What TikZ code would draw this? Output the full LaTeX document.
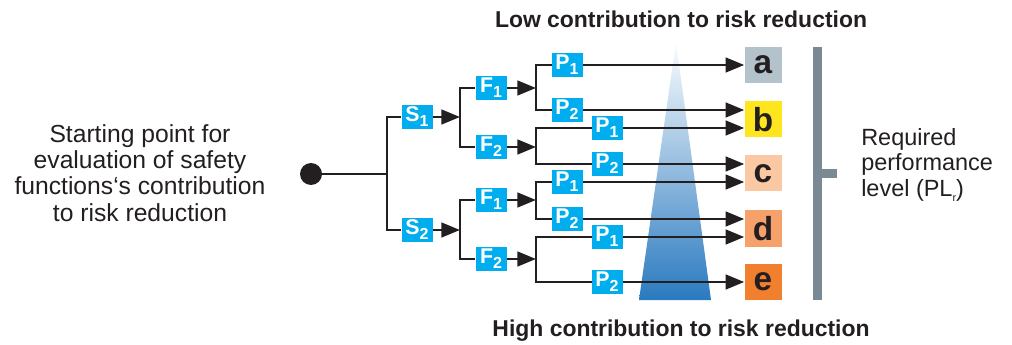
\documentclass[tikz,border=0pt]{standalone}
\usepackage{fontspec}
\setmainfont{Liberation Sans}
\usetikzlibrary{arrows.meta}
\definecolor{cyanbox}{RGB}{0,174,239}
\definecolor{ink}{RGB}{35,31,32}
\definecolor{ca}{RGB}{180,195,203}
\definecolor{cb}{RGB}{255,229,30}
\definecolor{cc}{RGB}{251,200,164}
\definecolor{cd}{RGB}{246,160,106}
\definecolor{ce}{RGB}{240,127,46}
\definecolor{barc}{RGB}{122,138,148}
\definecolor{tri}{RGB}{42,122,192}
\newcommand{\pidx}[1]{\raisebox{-0.45ex}{\fontsize{12}{12}\selectfont #1}}
\begin{document}
\begin{tikzpicture}[x=0.75pt,y=-0.75pt,
  param/.style={fill=cyanbox, text=white, font=\bfseries\fontsize{16}{16}\selectfont,
    minimum width=23.25pt, minimum height=18pt, inner sep=0pt},
  level/.style={minimum width=27.75pt, minimum height=27pt, inner sep=0pt,
    font=\bfseries\fontsize{25}{25}\selectfont, text=ink},
  wire/.style={draw=ink, line width=1.9pt},
  arr/.style={wire, -{Triangle[length=14pt,width=11pt]}},
  caption/.style={text=ink, inner sep=0pt},
  title/.style={text=ink, font=\bfseries\fontsize{17.2}{18}\selectfont, inner sep=0pt},
]
\useasboundingbox (0,0) rectangle (1012,345);

% gradient triangle
\shade[top color=tri!2, bottom color=tri] (676,42) -- (711,300) -- (639,300) -- cycle;

% PL bracket
\fill[barc] (813,47) rectangle (822,300);
\fill[barc] (822,169) rectangle (837,178);

% start
\node[circle, fill=ink, minimum size=16.5pt, inner sep=0pt] (start) at (311,174) {};
\coordinate (j0) at (387,174);

% S nodes
\node[param] (S1) at (417,117) {S\pidx{1}};
\node[param] (S2) at (417,230) {S\pidx{2}};
\coordinate (jS1) at (460,117);
\coordinate (jS2) at (460,230);

% F nodes
\node[param] (F1a) at (491,88) {F\pidx{1}};
\node[param] (F2a) at (491,147) {F\pidx{2}};
\node[param] (F1b) at (491,200) {F\pidx{1}};
\node[param] (F2b) at (491,259) {F\pidx{2}};
\coordinate (jF1a) at (536,88);
\coordinate (jF2a) at (536,147);
\coordinate (jF1b) at (536,200);
\coordinate (jF2b) at (536,259);

% level boxes
\node[level, fill=ca] (a) at (763,65) {a};
\node[level, fill=cb] (b) at (763,119.5) {b};
\node[level, fill=cc] (c) at (763,173.5) {c};
\node[level, fill=cd] (d) at (763,228.5) {d};
\node[level, fill=ce] (e) at (763,282) {e};

% P node positions
\coordinate (p11) at (567,65);
\coordinate (p12) at (567,110);
\coordinate (p21) at (607,128);
\coordinate (p22) at (607,164);
\coordinate (p31) at (567,182);
\coordinate (p32) at (567,219);
\coordinate (p41) at (607,237);
\coordinate (p42) at (607,282);

% wires
\draw[wire] (start.center) -- (j0);
\draw[wire] (S1.west) -| (j0) |- (S2.west);
\draw[arr] (S1.east) -- (jS1);
\draw[arr] (S2.east) -- (jS2);
\draw[wire] (F1a.west) -| (jS1) |- (F2a.west);
\draw[wire] (F1b.west) -| (jS2) |- (F2b.west);
\draw[arr] (F1a.east) -- (jF1a);
\draw[arr] (F2a.east) -- (jF2a);
\draw[arr] (F1b.east) -- (jF1b);
\draw[arr] (F2b.east) -- (jF2b);

\draw[wire] (p11) -| (jF1a) |- (p12);
\draw[wire] (p21) -| (jF2a) |- (p22);
\draw[wire] (p31) -| (jF1b) |- (p32);
\draw[wire] (p41) -| (jF2b) |- (p42);

\draw[arr] (p11) -- (p11 -| a.west);
\draw[arr] (p12) -- (p12 -| b.west);
\draw[arr] (p21) -- (p21 -| b.west);
\draw[arr] (p22) -- (p22 -| c.west);
\draw[arr] (p31) -- (p31 -| c.west);
\draw[arr] (p32) -- (p32 -| d.west);
\draw[arr] (p41) -- (p41 -| d.west);
\draw[arr] (p42) -- (p42 -| e.west);

% P boxes on top of wires
\node[param] (P11) at (p11) {P\pidx{1}};
\node[param] (P12) at (p12) {P\pidx{2}};
\node[param] (P21) at (p21) {P\pidx{1}};
\node[param] (P22) at (p22) {P\pidx{2}};
\node[param] (P31) at (p31) {P\pidx{1}};
\node[param] (P32) at (p32) {P\pidx{2}};
\node[param] (P41) at (p41) {P\pidx{1}};
\node[param] (P42) at (p42) {P\pidx{2}};

% texts
\node[caption, align=center, font=\fontsize{18.5}{19.6}\selectfont] (left) at (140,173)
  {Starting point for\\evaluation of safety\\functions‘s contribution\\to risk reduction};
\node[caption, align=left, anchor=west, font=\fontsize{17.6}{19.2}\selectfont] (req) at (861,165)
  {Required\\performance\\level (PL\raisebox{-0.45ex}{\fontsize{8}{8}\selectfont r})};
\node[title] (low) at (681,19) {Low contribution to risk reduction};
\node[title] (high) at (681,331) {High contribution to risk reduction};
\end{tikzpicture}
\end{document}
